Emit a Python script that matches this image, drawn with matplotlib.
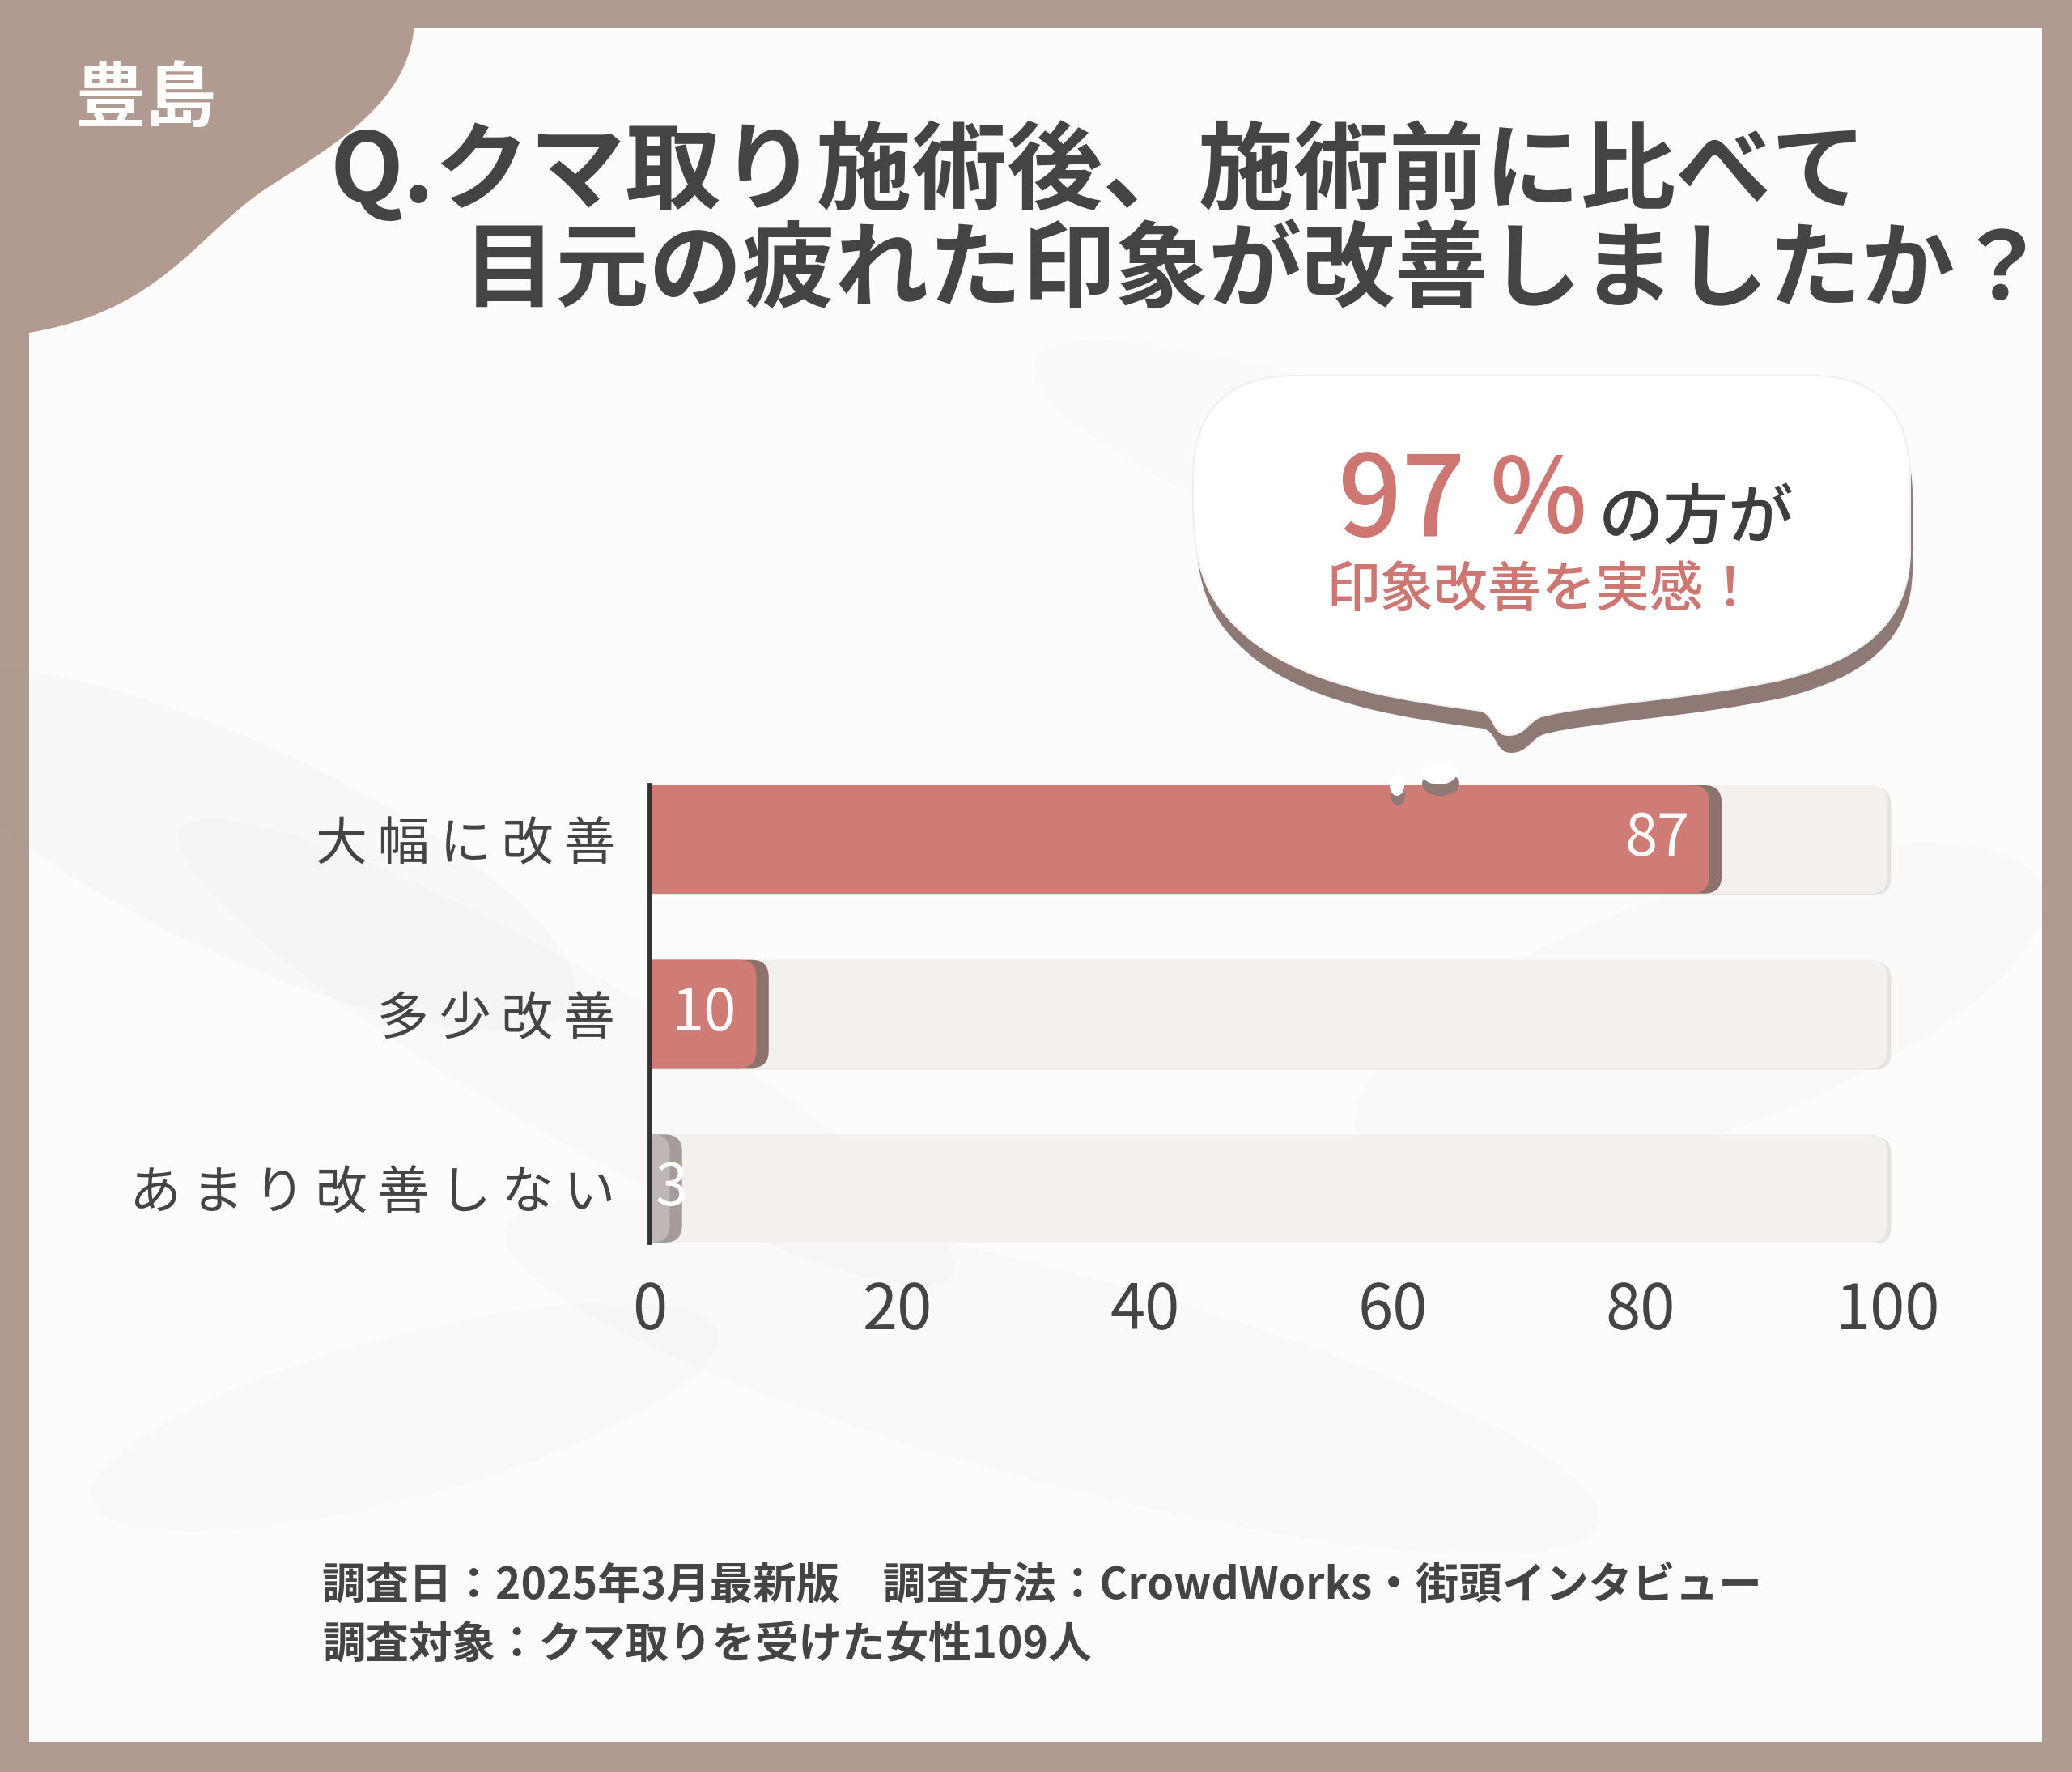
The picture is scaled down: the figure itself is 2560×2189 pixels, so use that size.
import matplotlib
matplotlib.use('Agg')
import matplotlib.pyplot as plt
from matplotlib.patches import FancyBboxPatch, PathPatch, Rectangle, Ellipse
from matplotlib.path import Path

# ---------------- data ----------------
categories = ['大幅に改善', '多少改善', 'あまり改善しない']
values = [87, 10, 3]
bar_colors = ['#CF7B76', '#CF7B76', '#BFB7B4']
shadow_colors = ['#8C716C', '#8C716C', '#A49C99']
track_max = 100
xticks = [0, 20, 40, 60, 80, 100]

area_label = '豊島'
title_lines = ['Q.クマ取り施術後、施術前に比べて', '目元の疲れた印象が改善しましたか？']
callout_number = '97'
callout_unit = '%'
callout_rest = 'の方が'
callout_line2 = '印象改善を実感！'
notes = ['調査日：2025年3月最新版　調査方法：CrowdWorks・街頭インタビュー',
         '調査対象：クマ取りを受けた女性109人']

plt.rcParams['font.family'] = ['Noto Sans CJK JP', 'DejaVu Sans']

W, H = 2560, 2189
FRAME = '#B19B90'
DARK = '#444444'
RED = '#CD7672'

fig = plt.figure(figsize=(W / 100, H / 100), dpi=100)
fig.patch.set_facecolor(FRAME)

# ---------------- background layer ----------------
bg = fig.add_axes([0, 0, 1, 1], zorder=0)
bg.set_xlim(0, W)
bg.set_ylim(H, 0)
bg.axis('off')
bg.add_patch(Rectangle((36, 34), 2523 - 36, 2152 - 34, facecolor='#FCFCFC', edgecolor='none'))

# faint shadow texture
for (cx, cy, w, h, a, al) in [(300, 1050, 900, 260, 25, 0.028), (700, 1300, 1100, 200, 30, 0.022),
                              (1300, 1700, 1400, 260, 15, 0.022), (2100, 1250, 900, 300, -20, 0.022),
                              (500, 1750, 800, 200, -15, 0.02), (1700, 600, 900, 200, 20, 0.015)]:
    bg.add_patch(Ellipse((cx, cy), w, h, angle=a, facecolor='#888888', alpha=al, edgecolor='none'))

# top-left blob
blob = Path([(30, 30), (512, 30), (505, 125), (420, 175), (330, 232),
             (240, 292), (200, 385), (30, 412), (30, 30)],
            [Path.MOVETO, Path.LINETO, Path.CURVE4, Path.CURVE4, Path.CURVE4,
             Path.CURVE4, Path.CURVE4, Path.CURVE4, Path.CLOSEPOLY])
bg.add_patch(PathPatch(blob, facecolor=FRAME, edgecolor='none'))

bg.text(180, 124, area_label, color='white', fontsize=63, fontweight='bold',
        ha='center', va='center')

bg.text(408, 212, title_lines[0], color=DARK, fontsize=85, fontweight='bold',
        ha='left', va='center')
bg.text(572, 337, title_lines[1], color=DARK, fontsize=83, fontweight='bold',
        ha='left', va='center')

for i, line in enumerate(notes):
    bg.text(398, 1960 + i * 73, line, color=DARK, fontsize=38.5, fontweight='bold',
            ha='left', va='center')

# ---------------- chart ----------------
px_per_x = 15.29
px_per_y = 216.0
xmax = 104
ax_top, ax_bot = 970, 1535
ax = fig.add_axes([803 / W, 1 - ax_bot / H, xmax * px_per_x / W, (ax_bot - ax_top) / H], zorder=1)
ax.set_xlim(0, xmax)
ax.set_ylim(2.31, -0.31)
ax.patch.set_alpha(0)

ypos = list(range(len(categories)))
bar_h = 0.62
aspect = px_per_x / px_per_y

tracks = ax.barh(ypos, [track_max] * len(categories), height=bar_h, color='none')
bars = ax.barh(ypos, values, height=bar_h, color='none')


def rounded(x0, y0, w, h, color, z):
    p = FancyBboxPatch((x0 - 3, y0), w + 3, h,
                       boxstyle='round,pad=0,rounding_size=1.4',
                       mutation_aspect=aspect, facecolor=color, edgecolor='none', zorder=z)
    ax.add_patch(p)
    return p


for rect in tracks:
    x0, y0, w, h = rect.get_x(), rect.get_y(), rect.get_width(), rect.get_height()
    rounded(x0 + 0.3, y0 + 0.01, w, h, '#E6E3E1', 1)
    rounded(x0, y0, w, h, '#F3F0ED', 2)

for rect, col, scol, v in zip(bars, bar_colors, shadow_colors, values):
    x0, y0, w, h = rect.get_x(), rect.get_y(), rect.get_width(), rect.get_height()
    rounded(x0, y0, w - 0.4, h, scol, 3)
    rounded(x0, y0, w - 1.4, h, col, 4)
    tx = v - 3.0 if v > 5 else v + 0.1
    ax.text(tx, rect.get_y() + h / 2, str(v), color='white', fontsize=52,
            ha='right', va='center', zorder=6)

for s in ['top', 'right', 'bottom']:
    ax.spines[s].set_visible(False)
ax.spines['left'].set_color('#333333')
ax.spines['left'].set_linewidth(4.2)
ax.spines['left'].set_zorder(7)

ax.set_xticks(xticks)
ax.set_xticklabels([str(t) for t in xticks])
ax.tick_params(axis='x', length=0, pad=33, labelsize=56, labelcolor=DARK)
ax.set_yticks(ypos)
ax.set_yticklabels(['\u2009'.join(c) for c in categories])
ax.tick_params(axis='y', length=0, pad=31, labelsize=46, labelcolor=DARK)

# ---------------- callout bubble (foreground) ----------------
fg = fig.add_axes([0, 0, 1, 1], zorder=2)
fg.set_xlim(0, W)
fg.set_ylim(H, 0)
fg.axis('off')
fg.patch.set_alpha(0)

bubble_pts = [(1600, 464), (2240, 464),
              (2320, 464), (2360, 510), (2360, 590),
              (2360, 680),
              (2360, 770), (2300, 815), (2200, 840),
              (2080, 865), (1960, 870), (1905, 885),
              (1888, 890), (1885, 908), (1864, 908),
              (1844, 908), (1848, 884), (1830, 878),
              (1740, 866), (1620, 850), (1545, 790),
              (1490, 745), (1474, 700), (1474, 620),
              (1474, 590),
              (1474, 505), (1520, 464), (1600, 464),
              (1600, 464)]
bubble_codes = ([Path.MOVETO, Path.LINETO] + [Path.CURVE4] * 3 + [Path.LINETO]
                + [Path.CURVE4] * 18 + [Path.LINETO] + [Path.CURVE4] * 3 + [Path.CLOSEPOLY])
shadow = Path([(x + 3, y + 22) for x, y in bubble_pts], bubble_codes)
fg.add_patch(PathPatch(shadow, facecolor='#8E7974', edgecolor='none'))
fg.add_patch(PathPatch(Path(bubble_pts, bubble_codes), facecolor='white', edgecolor='#F0F0F0', lw=1.5))

# drips
fg.add_patch(Ellipse((1727, 982), 18, 26, facecolor='#8E7974', edgecolor='none'))
fg.add_patch(Ellipse((1726, 970), 18, 26, facecolor='white', edgecolor='none'))
fg.add_patch(Ellipse((1780, 968), 46, 30, facecolor='#8E7974', edgecolor='none'))
fg.add_patch(Ellipse((1778, 955), 44, 28, facecolor='white', edgecolor='none'))

fg.text(1652, 622, callout_number, color=RED, fontsize=100, fontweight='medium',
        ha='left', va='center')
fg.text(1840, 622, callout_unit, color=RED, fontsize=92, fontweight='medium',
        ha='left', va='center')
fg.text(1975, 642, callout_rest, color='#3E3E3E', fontsize=58, fontweight='medium',
        ha='left', va='center')
fg.text(1905, 730, callout_line2, color=RED, fontsize=48, fontweight='medium',
        ha='center', va='center')

fig.savefig('out.png', dpi=100, facecolor=FRAME)
